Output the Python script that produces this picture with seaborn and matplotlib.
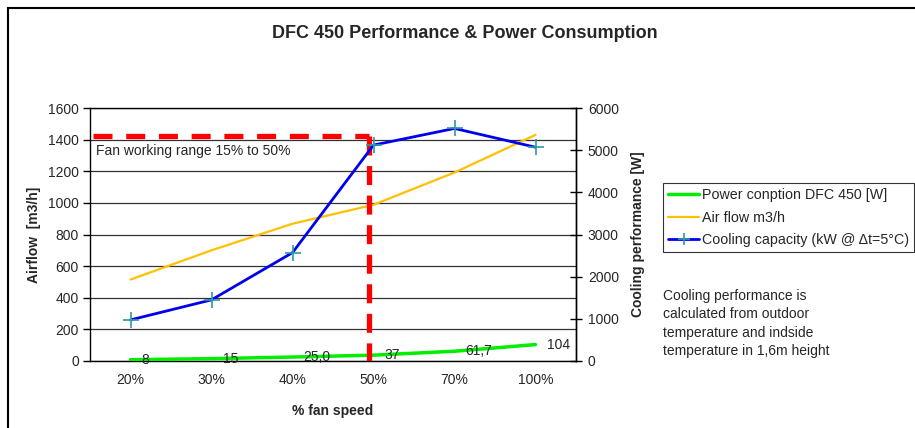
import numpy as np
import pandas as pd
import seaborn as sns
import matplotlib.pyplot as plt
from matplotlib.patches import Rectangle

# values
speeds = ['20%', '30%', '40%', '50%', '70%', '100%']
power_w = [8, 15, 25.0, 37, 61.7, 104]
power_labels = ['8', '15', '25,0', '37', '61,7', '104']
airflow = [515, 700, 868, 988, 1192, 1430]
cooling_w = [975, 1450, 2570, 5120, 5515, 5070]
fan_range_top = 1420
fan_range_end = '50%'

df = pd.DataFrame({'speed': speeds, 'power': power_w,
                   'airflow': airflow, 'cooling': cooling_w})

sns.set_style('white')
plt.rcParams['font.family'] = ['Liberation Sans', 'DejaVu Sans']

fig = plt.figure(figsize=(9.15, 4.28), dpi=100)
ax = fig.add_axes([90 / 915, 1 - 361 / 428, 486 / 915, 253 / 428])
ax2 = ax.twinx()

# frame around the whole chart area
fig.patches.append(Rectangle((8 / 915, -0.1), 1.2, 1.1 - 8 / 428, transform=fig.transFigure,
                             fill=False, lw=1.5, ec='black'))

# left axis: airflow and power
sns.lineplot(data=df, x='speed', y='power', ax=ax, color='#00EE00', lw=2.5,
             label='Power conption DFC 450 [W]', legend=False, zorder=4)
sns.lineplot(data=df, x='speed', y='airflow', ax=ax, color='#FFC000', lw=1.6,
             label='Air flow m3/h', legend=False, zorder=3)

# right axis: cooling capacity
sns.lineplot(data=df, x='speed', y='cooling', ax=ax2, color='#0000EE', lw=2,
             marker='+', markersize=11, markeredgewidth=1.2, markeredgecolor='#2E9AA8',
             label='Cooling capacity (kW @ \u0394t=5\u00b0C)', legend=False)

for i, (v, lab) in enumerate(zip(power_w, power_labels)):
    ax.annotate(lab, (i, v), xytext=(8, 0), textcoords='offset points',
                ha='left', va='center', fontsize=10, zorder=6)

# fan working range marker
xe = speeds.index(fan_range_end) - 0.05
ax.plot([-0.46, xe], [fan_range_top, fan_range_top], color='#FF0000', lw=3.8,
        dashes=(3.6, 2.6), solid_capstyle='butt', zorder=5)
ax.plot([xe, xe], [fan_range_top, 0], color='#FF0000', lw=3.8,
        dashes=(3.6, 2.0), solid_capstyle='butt', zorder=5)
ax.text(-0.43, 1330, 'Fan working range 15% to 50%', fontsize=10, va='center', ha='left')

ax.set_xlim(-0.5, len(speeds) - 0.5)
ax.set_ylim(0, 1600)
ax.set_yticks(np.arange(0, 1601, 200))
ax2.set_ylim(0, 6000)
ax2.set_yticks(np.arange(0, 6001, 1000))

ax.yaxis.grid(True, color='#333333', lw=0.9)
ax.set_axisbelow(True)

ax.set_xticks(range(len(speeds)))
ax.set_xticklabels(speeds)
ax.set_xticks(np.arange(-0.5, len(speeds)), minor=True)
ax.tick_params(axis='x', which='major', length=0, labelsize=10, pad=9)
ax.tick_params(axis='x', which='minor', length=5, width=1, direction='out', color='black')
ax.tick_params(axis='y', length=5, width=1, direction='out', color='black', labelsize=10, pad=3)
ax2.tick_params(axis='y', length=9, width=1, direction='inout', color='black', labelsize=10, pad=4)

for s in ax.spines.values():
    s.set_color('black')
    s.set_linewidth(1)
for s in ax2.spines.values():
    s.set_visible(False)
ax2.spines['right'].set_visible(True)
ax2.spines['right'].set_color('black')
ax2.spines['right'].set_linewidth(1)

ax.set_xlabel('% fan speed', fontsize=10, fontweight='bold', labelpad=12)
ax.set_ylabel('Airflow  [m3/h]', fontsize=10, fontweight='bold', labelpad=5)
ax2.set_ylabel('Cooling performance [W]', fontsize=10, fontweight='bold', labelpad=9)

fig.text(465 / 915, 1 - 34 / 428, 'DFC 450 Performance & Power Consumption',
         ha='center', va='center', fontsize=13, fontweight='bold')

handles = ax.get_lines()[:2] + ax2.get_lines()[:1]
leg = fig.legend(handles=handles, labels=[h.get_label() for h in handles],
                 loc='upper left', bbox_to_anchor=(663 / 915, 1 - 183 / 428),
                 fontsize=10.3, frameon=True, fancybox=False, edgecolor='black',
                 handlelength=2.2, handletextpad=0.2, labelspacing=0.6,
                 borderpad=0.35, borderaxespad=0, markerscale=0.8)
leg.get_frame().set_linewidth(0.8)

fig.text(663 / 915, 1 - 289 / 428,
         'Cooling performance is\ncalculated from outdoor\ntemperature and indside\ntemperature in 1,6m height',
         ha='left', va='top', fontsize=10, linespacing=1.4)

plt.savefig('out.png', dpi=100)
